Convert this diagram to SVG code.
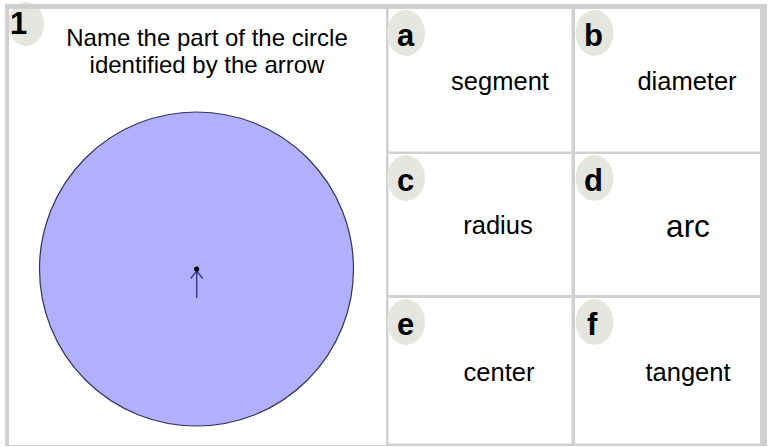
<svg xmlns="http://www.w3.org/2000/svg" width="771" height="447" viewBox="0 0 771 447">
<style>
.cell{fill:#ffffff}
.badge{fill:#e6e6e0}
.bl{font-family:"Liberation Sans",Arial,sans-serif;font-weight:bold;font-size:31px;fill:#000}
.lbl{font-family:"Liberation Sans",Arial,sans-serif;font-size:25.5px;fill:#000;text-anchor:middle}
.q{font-family:"Liberation Sans",Arial,sans-serif;font-size:24px;fill:#000;text-anchor:middle}
</style>
<rect x="0" y="0" width="771" height="447" fill="#ffffff"/>
<rect x="5" y="4" width="762" height="442" fill="#d0d0d0"/>
<g id="question">
<rect class="cell" x="9" y="9" width="377" height="436"/>
<ellipse class="badge" cx="26" cy="24" rx="18" ry="22"/>
<rect x="5" y="4" width="4" height="442" fill="#d0d0d0"/>
<rect x="5" y="4" width="382" height="5" fill="#d0d0d0"/>
<text class="bl" x="10" y="34">1</text>
<text class="q" x="207" y="46">Name the part of the circle</text>
<text class="q" x="207" y="73">identified by the arrow</text>
<circle cx="196.5" cy="269" r="157" fill="#b0b0ff" stroke="#333355" stroke-width="1.2"/>
</g>
<g id="connectors">
<line x1="196.7" y1="298" x2="196.7" y2="271" stroke="#333388" stroke-width="1.4"/>
<polyline points="190.7,278.5 196.7,271 202.7,278.5" fill="none" stroke="#333388" stroke-width="1.3"/>
<circle cx="196.7" cy="269" r="2.6" fill="#000"/>
</g>
<g id="opt-a"><rect class="cell" x="388.5" y="9" width="183" height="142.5"/><ellipse class="badge" cx="406" cy="33" rx="19" ry="23"/><text class="bl" x="397" y="46">a</text><text class="lbl" x="500" y="90">segment</text></g>
<g id="opt-b"><rect class="cell" x="575" y="9" width="185" height="142.5"/><ellipse class="badge" cx="594.5" cy="33" rx="19" ry="23"/><text class="bl" x="584" y="46">b</text><text class="lbl" x="687" y="90">diameter</text></g>
<g id="opt-c"><rect class="cell" x="388.5" y="154" width="183" height="141"/><ellipse class="badge" cx="406" cy="178" rx="19" ry="23"/><text class="bl" x="397" y="191">c</text><text class="lbl" x="498" y="234">radius</text></g>
<g id="opt-d"><rect class="cell" x="575" y="154" width="185" height="141"/><ellipse class="badge" cx="594.5" cy="178" rx="19" ry="23"/><text class="bl" x="584" y="191">d</text><text class="lbl" x="688" y="237" style="font-size:31.5px">arc</text></g>
<g id="opt-e"><rect class="cell" x="388.5" y="298" width="183" height="145.5"/><ellipse class="badge" cx="406" cy="322" rx="19" ry="23"/><text class="bl" x="397" y="335">e</text><text class="lbl" x="499" y="381">center</text></g>
<g id="opt-f"><rect class="cell" x="575" y="298" width="185" height="145.5"/><ellipse class="badge" cx="594.5" cy="322" rx="19" ry="23"/><text class="bl" x="587" y="335">f</text><text class="lbl" x="688" y="381">tangent</text></g>
</svg>
